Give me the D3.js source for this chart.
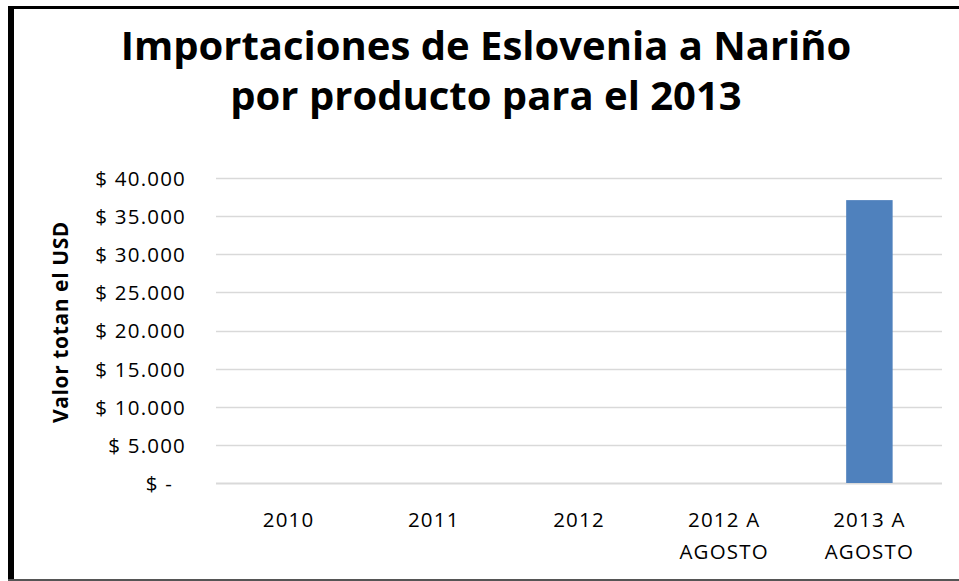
<!DOCTYPE html>
<html>
<head>
<meta charset="utf-8">
<script src="https://cdn.jsdelivr.net/npm/d3@7"></script>
<style>
  html, body { margin: 0; padding: 0; background: #fff; }
  svg { display: block; }
  text { font-family: "Open Sans", "Noto Sans", sans-serif; fill: #000; }
</style>
</head>
<body>
<svg id="chart" width="959" height="581"></svg>
<script>
const titleLines = ["Importaciones de Eslovenia a Nariño", "por producto para el 2013"];
const yAxisTitle = "Valor totan el USD";
const categories = [["2010"], ["2011"], ["2012"], ["2012 A", "AGOSTO"], ["2013 A", "AGOSTO"]];
const values = [0, 0, 0, 0, 37100];
const yTicks = [0, 5000, 10000, 15000, 20000, 25000, 30000, 35000, 40000];
const yTickLabels = ["$ -  ", "$ 5.000", "$ 10.000", "$ 15.000", "$ 20.000", "$ 25.000", "$ 30.000", "$ 35.000", "$ 40.000"];

const W = 959, H = 581;
const margin = { left: 216, right: 17, top: 178, bottom: 98 };
const svg = d3.select("#chart");

// Frame
svg.append("rect").attr("x", 0).attr("y", 0).attr("width", W).attr("height", H).attr("fill", "#fff");
svg.append("line").attr("x1", 8).attr("x2", W).attr("y1", 7.5).attr("y2", 7.5).attr("stroke", "#000").attr("stroke-width", 3);
svg.append("line").attr("x1", 11).attr("x2", 11).attr("y1", 6).attr("y2", H).attr("stroke", "#000").attr("stroke-width", 6);
svg.append("line").attr("x1", 8).attr("x2", W).attr("y1", 580).attr("y2", 580).attr("stroke", "#555").attr("stroke-width", 2);

const x = d3.scaleBand()
  .domain(categories.map((c, i) => i))
  .range([margin.left, W - margin.right])
  .paddingInner(0.68).paddingOuter(0.34);
const y = d3.scaleLinear().domain([0, 40000]).range([H - margin.bottom, margin.top]);

// Gridlines
svg.append("g").selectAll("line").data(yTicks).join("line")
  .attr("x1", margin.left).attr("x2", W - margin.right)
  .attr("y1", d => Math.round(y(d)) + 0.5).attr("y2", d => Math.round(y(d)) + 0.5)
  .attr("stroke", "#d9d9d9").attr("stroke-width", d => d === 0 ? 2 : 1.5);

// Bars
svg.append("g").selectAll("rect").data(values).join("rect")
  .attr("x", (d, i) => x(i)).attr("width", x.bandwidth())
  .attr("y", d => y(d)).attr("height", d => y(0) - y(d))
  .attr("fill", "#4f81bd");

// Y axis tick labels
const yAxis = d3.axisLeft(y).tickValues(yTicks).tickSize(0).tickPadding(0)
  .tickFormat((d, i) => yTickLabels[i]);
const yg = svg.append("g").attr("transform", `translate(186,0)`).call(yAxis);
yg.select(".domain").remove();
yg.selectAll("text").attr("font-size", 20.5).attr("font-family", "Open Sans, sans-serif")
  .attr("letter-spacing", 1.2)
  .attr("fill", "#000").style("white-space", "pre").attr("dy", "0.36em");

// X axis labels
const xg = svg.append("g");
categories.forEach((lines, i) => {
  const t = xg.append("text")
    .attr("x", x(i) + x.bandwidth() / 2)
    .attr("y", 527)
    .attr("text-anchor", "middle")
    .attr("letter-spacing", 1.2)
    .attr("font-size", 20.5);
  lines.forEach((l, j) => {
    t.append("tspan").attr("x", x(i) + x.bandwidth() / 2).attr("dy", j === 0 ? 0 : 32).text(l);
  });
});

// Y axis title
svg.append("text")
  .attr("transform", "translate(68,322) rotate(-90)")
  .attr("text-anchor", "middle")
  .attr("font-size", 21).attr("font-weight", "bold")
  .attr("letter-spacing", 0.6)
  .text(yAxisTitle);

// Title
titleLines.forEach((l, i) => {
  svg.append("text")
    .attr("x", 486).attr("y", 60 + i * 50)
    .attr("text-anchor", "middle")
    .attr("font-size", 40).attr("font-weight", "bold")
    .text(l);
});
</script>
</body>
</html>
